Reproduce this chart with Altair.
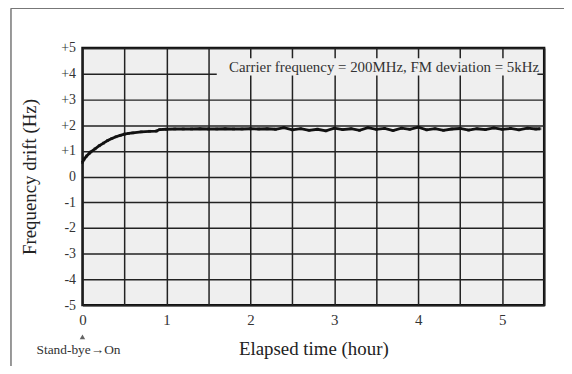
import altair as alt
import pandas as pd

# ---- data ----
hours = [0, 0.02, 0.05, 0.08, 0.1, 0.15, 0.2, 0.25, 0.3, 0.35, 0.4, 0.45, 0.5, 0.55,
         0.6, 0.7, 0.8, 0.88, 0.92, 1.0, 1.1, 1.2, 1.3, 1.4, 1.5, 1.6, 1.7, 1.8, 1.9,
         2.0, 2.1, 2.2, 2.3, 2.4, 2.5, 2.6, 2.7, 2.8, 2.9, 3.0, 3.1, 3.2, 3.3, 3.4,
         3.5, 3.6, 3.7, 3.8, 3.9, 4.0, 4.1, 4.2, 4.3, 4.4, 4.5, 4.6, 4.7, 4.8, 4.9,
         5.0, 5.1, 5.2, 5.3, 5.4, 5.45]
drift = [0.55, 0.68, 0.80, 0.90, 0.96, 1.08, 1.20, 1.30, 1.40, 1.48, 1.55, 1.60, 1.65, 1.68,
         1.70, 1.74, 1.76, 1.77, 1.83, 1.84, 1.85, 1.85, 1.85, 1.86, 1.85, 1.85, 1.86, 1.85, 1.85,
         1.86, 1.85, 1.86, 1.84, 1.90, 1.82, 1.86, 1.80, 1.84, 1.78, 1.88, 1.83, 1.86, 1.80, 1.90,
         1.84, 1.87, 1.79, 1.88, 1.84, 1.92, 1.82, 1.86, 1.80, 1.85, 1.87, 1.81, 1.86, 1.83, 1.89,
         1.84, 1.87, 1.82, 1.88, 1.85, 1.86]
y_ticks = [-5, -4, -3, -2, -1, 0, 1, 2, 3, 4, 5]
x_ticks = [0, 0.5, 1, 1.5, 2, 2.5, 3, 3.5, 4, 4.5, 5, 5.5]
note = "Carrier frequency = 200MHz, FM deviation = 5kHz"
start_label = "Stand-bye\u2192On"

df = pd.DataFrame({"t": hours, "f": drift})

FONT = "Liberation Serif"
W, H = 465, 259

xs = alt.Scale(domain=[0, 5.5], nice=False, zero=False)
ys = alt.Scale(domain=[-5, 5], nice=False)

x_axis = alt.Axis(
    values=x_ticks, title="Elapsed time (hour)",
    labelExpr="datum.value % 1 == 0 ? '' + datum.value : ''",
    labelOverlap=False, labelFlush=False, labelBound=False,
    grid=True, gridColor="#222", gridWidth=1.5, ticks=False, domain=False,
    labelFont=FONT, labelFontSize=15, labelColor="#333", labelPadding=7,
    titleFont=FONT, titleFontSize=19, titleFontWeight="normal", titleColor="#222",
    titlePadding=13)
y_axis = alt.Axis(
    values=y_ticks, title="Frequency drift (Hz)",
    labelExpr="datum.value > 0 ? '+' + datum.value : '' + datum.value",
    labelOverlap=False, labelFlush=False, labelBound=False,
    grid=True, gridColor="#222", gridWidth=1.5, ticks=False, domain=False,
    labelFont=FONT, labelFontSize=14, labelColor="#333", labelPadding=7,
    titleFont=FONT, titleFontSize=19, titleFontWeight="normal", titleColor="#222",
    titlePadding=21)

base = alt.Chart(df)

line = base.mark_line(color="#111", strokeWidth=2.8).encode(
    x=alt.X("t:Q", scale=xs, axis=x_axis),
    y=alt.Y("f:Q", scale=ys, axis=y_axis),
)

pts = base.mark_point(shape="square", size=8, filled=True, color="#111").encode(
    x=alt.X("t:Q", scale=xs, axis=x_axis), y=alt.Y("f:Q", scale=ys, axis=y_axis))

note_df = pd.DataFrame({"x": [1.6], "x2": [5.42], "y": [3.93], "y2": [4.6], "tx": [5.44], "ty": [4.27], "label": [note]})
note_bg = alt.Chart(note_df).mark_rect(color="#efefef").encode(
    x=alt.X("x:Q", scale=xs, axis=x_axis), x2="x2", y=alt.Y("y:Q", scale=ys, axis=y_axis), y2="y2")
note_txt = alt.Chart(note_df).mark_text(font=FONT, fontSize=15, align="right",
                                         baseline="middle", color="#333").encode(
    x=alt.X("tx:Q", scale=xs, axis=x_axis), y=alt.Y("ty:Q", scale=ys, axis=y_axis), text="label:N")

start_df = pd.DataFrame({"x": [0], "label": [start_label]})
tri = alt.Chart(start_df).mark_point(shape="triangle-up", filled=True, size=30, color="#222").encode(
    x=alt.X("x:Q", scale=xs, axis=x_axis), y=alt.value(291))
start_txt = alt.Chart(start_df).mark_text(font=FONT, fontSize=13.5, color="#333", dx=-4).encode(
    x=alt.X("x:Q", scale=xs, axis=x_axis), y=alt.value(304), text="label:N")

frame_df = pd.DataFrame({"k": [0]})
frame_left = alt.Chart(frame_df).mark_rule(color="#777", strokeWidth=1.5).encode(
    x=alt.value(-72), y=alt.value(-40), y2=alt.value(340))
frame_top = alt.Chart(frame_df).mark_rule(color="#777", strokeWidth=1.5).encode(
    x=alt.value(-72), x2=alt.value(500), y=alt.value(-40))

chart = alt.layer(line, pts, note_bg, note_txt, tri, start_txt, frame_left, frame_top).properties(
    width=W, height=H,
    autosize=alt.AutoSizeParams(type="none"),
    padding={"left": 75, "top": 39, "right": 20, "bottom": 60},
    background="white",
).configure_view(
    fill="#efefef", stroke="#111", strokeWidth=2.4
).configure_axis(labelOverlap=False)

chart.save("out.html", embed_options={"renderer": "svg", "actions": False})
